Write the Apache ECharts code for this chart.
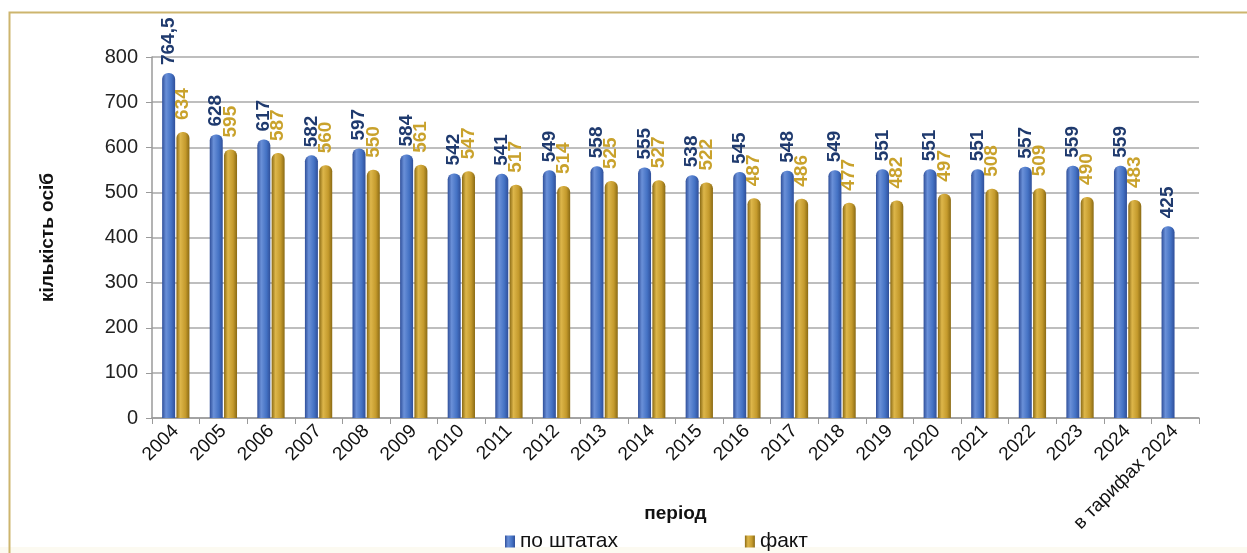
<!DOCTYPE html>
<html>
<head>
<meta charset="utf-8">
<script src="https://cdn.jsdelivr.net/npm/echarts@6/dist/echarts.min.js"></script>
<style>
  html, body { margin: 0; padding: 0; background: #fff; }
  #main { width: 1247px; height: 553px; }
</style>
</head>
<body>
<div id="main"></div>
<script>
// категорії (періоди)
var periods = ['2004', '2005', '2006', '2007', '2008', '2009', '2010', '2011', '2012', '2013', '2014',
    '2015', '2016', '2017', '2018', '2019', '2020', '2021', '2022', '2023', '2024', 'в тарифах 2024'];
// по штатах
var staffPlan = [764.5, 628, 617, 582, 597, 584, 542, 541, 549, 558, 555,
    538, 545, 548, 549, 551, 551, 551, 557, 559, 559, 425];
// факт
var staffFact = [634, 595, 587, 560, 550, 561, 547, 517, 514, 525, 527,
    522, 487, 486, 477, 482, 497, 508, 509, 490, 483, null];
var yTicks = [0, 100, 200, 300, 400, 500, 600, 700, 800];

var myChart = echarts.init(document.getElementById('main'));

// циліндричне заливання
function cyl(dark, mid, light) {
    return new echarts.graphic.LinearGradient(0, 0, 1, 0, [
        { offset: 0, color: dark },
        { offset: 0.3, color: light },
        { offset: 0.7, color: mid },
        { offset: 1, color: dark }
    ]);
}

function fmt(p) {
    return String(p.value).replace('.', ',');
}

myChart.setOption({
    animation: false,
    textStyle: { fontFamily: 'Liberation Sans, Arial, sans-serif' },
    graphic: [
        {
            type: 'rect',
            shape: { x: 0, y: 547, width: 1247, height: 6 },
            style: { fill: '#fcfaf1' },
            silent: true
        },
        {
            type: 'polyline',
            shape: { points: [[9.5, 553], [9.5, 12.5], [1247, 12.5]] },
            style: { stroke: '#cdb56e', lineWidth: 2, fill: null },
            silent: true
        }
    ],
    grid: {
        left: 152,
        right: 48,
        top: 57,
        bottom: 135
    },
    legend: {
        left: 500,
        top: 526,
        itemWidth: 10,
        itemHeight: 12,
        itemGap: 127,
        icon: 'rect',
        textStyle: { fontSize: 21, color: '#111' },
        data: ['по штатах', 'факт']
    },
    xAxis: {
        type: 'category',
        data: periods,
        name: 'період',
        nameLocation: 'middle',
        nameGap: 86,
        nameMoveOverlap: false,
        nameTextStyle: { fontSize: 19, fontWeight: 'bold', color: '#111' },
        axisLine: { lineStyle: { color: '#9a9a9a', width: 1.5 } },
        axisTick: { show: true, length: 6, lineStyle: { color: '#9a9a9a' } },
        axisLabel: { rotate: 45, fontSize: 19, color: '#111', margin: 10, interval: 0 }
    },
    yAxis: {
        type: 'value',
        min: yTicks[0],
        max: yTicks[yTicks.length - 1],
        interval: 100,
        name: 'кількість осіб',
        nameLocation: 'middle',
        nameGap: 95,
        nameMoveOverlap: false,
        nameTextStyle: { fontSize: 19, fontWeight: 'bold', color: '#111' },
        axisLine: { show: true, lineStyle: { color: '#9a9a9a', width: 1.5 } },
        axisTick: { show: true, length: 6, lineStyle: { color: '#9a9a9a' } },
        axisLabel: { fontSize: 20, color: '#222', margin: 14 },
        splitLine: { lineStyle: { color: '#a8a8a8', width: 1.5 } }
    },
    series: [
        {
            name: 'по штатах',
            type: 'bar',
            data: staffPlan,
            barWidth: 13,
            barGap: '10%',
            itemStyle: {
                color: cyl('#2f4f9a', '#4472c4', '#6a90d8'),
                borderRadius: [6, 6, 0, 0]
            },
            label: {
                show: true,
                position: 'top',
                rotate: 90,
                align: 'left',
                verticalAlign: 'middle',
                distance: 8,
                fontSize: 19,
                fontWeight: 'bold',
                color: '#1f3a6e',
                formatter: fmt
            }
        },
        {
            name: 'факт',
            type: 'bar',
            data: staffFact,
            barWidth: 13,
            itemStyle: {
                color: cyl('#8a6a14', '#c49a2c', '#ddb64a'),
                borderRadius: [6, 6, 0, 0]
            },
            label: {
                show: true,
                position: 'top',
                rotate: 90,
                align: 'left',
                verticalAlign: 'middle',
                distance: 12,
                fontSize: 19,
                fontWeight: 'bold',
                color: '#c9a22c',
                formatter: fmt
            }
        }
    ]
});
</script>
</body>
</html>
